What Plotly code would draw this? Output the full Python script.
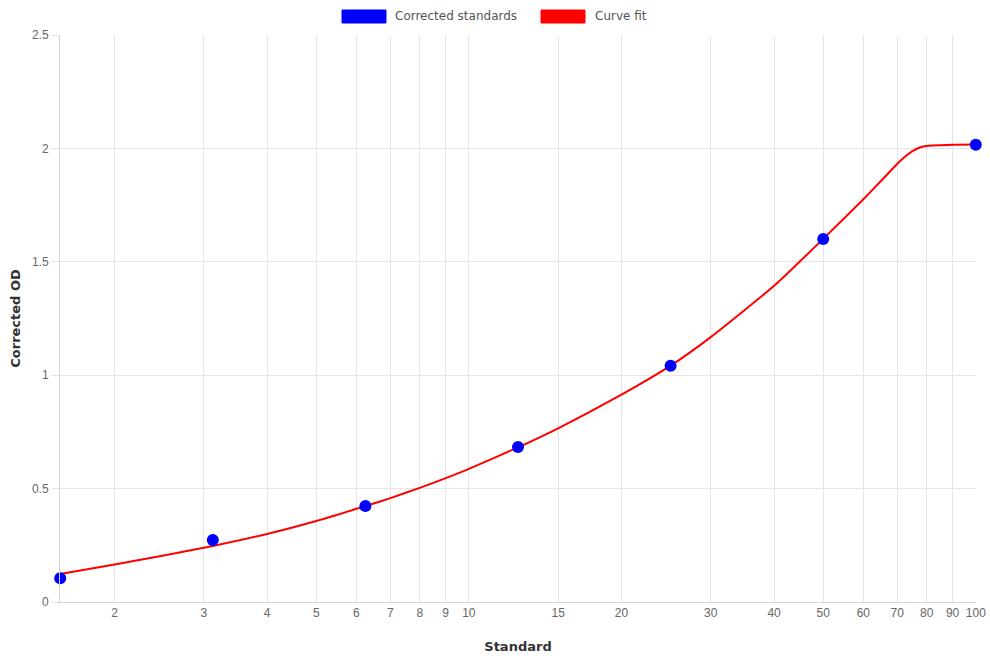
import plotly.graph_objects as go
import math

# Standards (measured)
std_conc = [1.5625, 3.125, 6.25, 12.5, 25, 50, 100]
std_od = [0.105, 0.273, 0.423, 0.683, 1.042, 1.601, 2.016]

# Curve fit
fit_conc = [1.5625, 2, 3.125, 4, 5, 6.25, 7, 8, 9, 10, 12.5, 15, 20, 25, 30, 40, 50,
            60, 65, 70, 72, 75, 78, 80, 90, 100]
fit_od = [0.123, 0.165, 0.247, 0.300, 0.357, 0.423, 0.458, 0.503, 0.546, 0.587, 0.682,
          0.766, 0.914, 1.042, 1.168, 1.394, 1.601, 1.776, 1.856, 1.932, 1.958, 1.988,
          2.006, 2.011, 2.016, 2.017]

x_ticks = [2, 3, 4, 5, 6, 7, 8, 9, 10, 15, 20, 30, 40, 50, 60, 70, 80, 90, 100]
x_ticktext = [str(v) for v in x_ticks]
y_ticks = [0, 0.5, 1, 1.5, 2, 2.5]
y_ticktext = ["0", "0.5", "1", "1.5", "2", "2.5"]

legend_labels = ["Corrected standards", "Curve fit"]
legend_colors = ["#0000ff", "#ff0000"]

grid = "#e5e5e5"
tick_font = dict(family="Liberation Sans, Arial, sans-serif", size=12, color="#666666")
title_font = dict(family="DejaVu Sans, sans-serif", size=13, color="#333333")

fig = go.Figure()
fig.add_trace(go.Scatter(x=fit_conc, y=fit_od, mode="lines", name="Curve fit",
                         line=dict(color="#ff0000", width=2, shape="spline", smoothing=0.5),
                         showlegend=False, hoverinfo="x+y"))
fig.add_trace(go.Scatter(x=std_conc, y=std_od, mode="markers", name="Corrected standards",
                         marker=dict(color="#0000ff", size=12, line=dict(width=0)),
                         cliponaxis=False, showlegend=False))

W, H = 990, 660
ml, mr, mt, mb = 60, 14, 35, 58

x_lo = math.log10(std_conc[0]) - 0.0004
x_hi = math.log10(std_conc[-1]) + 0.0004

fig.update_layout(
    width=W, height=H,
    margin=dict(l=ml, r=mr, t=mt, b=mb),
    plot_bgcolor="white", paper_bgcolor="white",
    xaxis=dict(type="log", range=[x_lo, x_hi],
               tickvals=x_ticks, ticktext=x_ticktext, tickfont=tick_font,
               showgrid=True, gridcolor=grid, gridwidth=1,
               showline=True, linecolor="#d4d4d4", linewidth=1,
               ticks="", ticklen=0, automargin=False,
               title=dict(text="<b>Standard</b>", font=title_font, standoff=22),
               zeroline=False),
    yaxis=dict(range=[0, 2.5], tickvals=y_ticks, ticktext=y_ticktext, tickfont=tick_font,
               showgrid=True, gridcolor=grid, gridwidth=1,
               showline=True, linecolor="#d4d4d4", linewidth=1,
               ticks="outside", ticklen=8, tickcolor=grid, automargin=False,
               title=dict(text="<b>Corrected OD</b>", font=title_font, standoff=8),
               zeroline=False),
)

# Legend drawn as boxes + labels at top centre
box_x = [342, 541]
text_x = [393, 593]
for bx, tx, lab, col in zip(box_x, text_x, legend_labels, legend_colors):
    fig.add_shape(type="rect", xref="paper", yref="paper",
                  x0=(bx - ml) / (W - ml - mr), x1=(bx + 44 - ml) / (W - ml - mr),
                  y0=(H - mb - 23) / (H - mt - mb), y1=(H - mb - 10) / (H - mt - mb),
                  fillcolor=col, line=dict(color=col, width=1))
    fig.add_annotation(xref="paper", yref="paper",
                       x=(tx - ml) / (W - ml - mr), y=(H - mb - 16.5) / (H - mt - mb),
                       text=lab, showarrow=False, xanchor="left", yanchor="middle",
                       font=dict(family="DejaVu Sans, sans-serif", size=12, color="#555555"))

fig.write_html("out.html")
